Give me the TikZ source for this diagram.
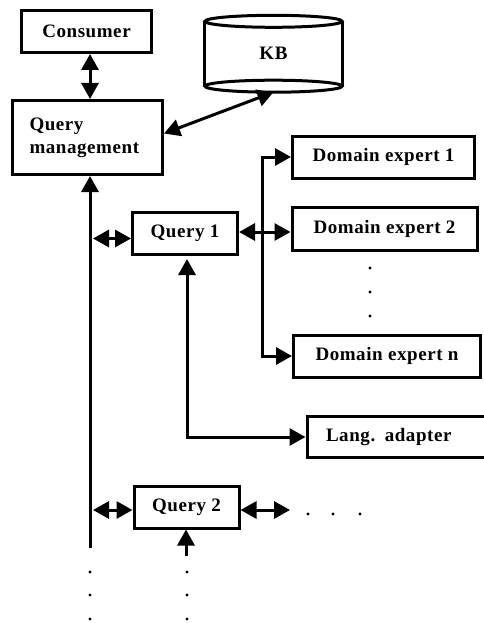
\documentclass[tikz,border=0pt]{standalone}
\usepackage{fontspec}
\setmainfont{Liberation Serif}[LetterSpace=3]
\usetikzlibrary{arrows.meta}

\begin{document}
\begin{tikzpicture}[x=1pt,y=-1pt,
  >={Triangle[length=16pt,width=17pt]},
  lbl/.style={font=\fontsize{19}{23}\selectfont\bfseries},
  box/.style={lbl, draw, line width=3pt, inner sep=0pt, minimum height=42pt},
  link/.style={line width=3pt},
  dot/.style={circle, fill, inner sep=0pt, minimum size=3.4pt}]
\useasboundingbox (0,0) rectangle (483,623);

% boxes
\node[box, minimum width=130pt] (cons) at (86.5,31.5) {Consumer};
\node[box, minimum width=150pt, minimum height=74pt, text width=116pt, align=left]
  (qm) at (87.5,137.5) {Query\\management};
\node[box, minimum width=105pt] (q1) at (185,233.5) {Query 1};
\node[box, minimum width=105pt] (q2) at (186.5,507) {Query 2};
\node[box, minimum width=182pt] (de1) at (383.5,157) {Domain expert 1};
\node[box, minimum width=185pt, minimum height=43pt] (de2) at (384.5,228.5) {Domain expert 2};
\node[box, minimum width=187pt] (den) at (387,356) {Domain expert n};
\node[box, minimum width=183pt, minimum height=41pt, text width=145pt, align=left]
  (lang) at (398.5,437) {Lang. adapter};

% knowledge base cylinder
\node[lbl, minimum width=137pt, minimum height=77pt, inner sep=0pt] (kb) at (273.5,53.5) {KB};
\draw[link] ([yshift=-6.5pt]kb.north) ellipse [x radius=68.5pt, y radius=6pt];
\draw[link] ([yshift=6pt]kb.south) ellipse [x radius=68.5pt, y radius=6pt];
\draw[link] ([yshift=-6.5pt]kb.north west) -- ([yshift=6pt]kb.south west);
\draw[link] ([yshift=-6.5pt]kb.north east) -- ([yshift=6pt]kb.south east);

% helper points
\coordinate (trunk) at (90,548);
\coordinate (bus) at (262,232);
\coordinate (q1feed) at (187,437);
\coordinate (q2feed) at (186,556);
\coordinate (q2out) at (290,510);

% connectors
\draw[link,<->] (cons.south -| trunk) -- (qm.north -| trunk);
\draw[link,<->] ([yshift=4pt]qm.east) -- (kb.south);
\draw[link,->] (trunk) -- (qm.south -| trunk);
\draw[link,<->,shorten <=3pt] ([yshift=-5pt]q1.west -| trunk) -- ([yshift=-5pt]q1.west);
\draw[link,<->] ([yshift=1.5pt]q1.east) -- ([yshift=1.5pt]q1.east -| de2.west);
\draw[link,<->] (de1.west) -| (bus) |- (den.west);
\draw[link,<->] ([yshift=-3pt]q1.south -| q1feed) -- (q1feed) -- (lang.west |- q1feed);
\draw[link,<->,shorten <=3pt] ([yshift=-3pt]q2.west -| trunk) -- ([yshift=-3pt]q2.west);
\draw[link,<->] ([yshift=-3pt]q2.east) -- (q2out);
\draw[link,->] (q2feed) -- (q2.south -| q2feed);

% continuation dots
\foreach \y [count=\i] in {268,292,316} \node[dot] (vd\i) at (370,\y) {};
\foreach \x [count=\i] in {308,333,360} \node[dot] (hd\i) at (\x,514) {};
\foreach \y [count=\i] in {572,595,619} {
  \node[dot] (td\i) at (90,\y) {};
  \node[dot] (qd\i) at (187,\y) {};
}
\end{tikzpicture}
\end{document}
